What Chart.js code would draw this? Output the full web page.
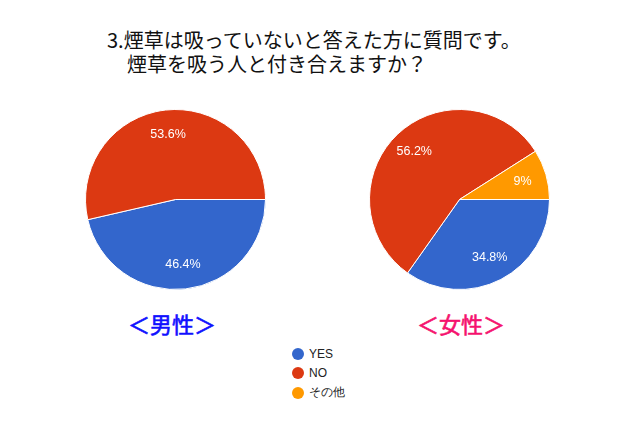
<!DOCTYPE html>
<html>
<head>
<meta charset="utf-8">
<script src="https://cdn.jsdelivr.net/npm/chart.js@4/dist/chart.umd.min.js"></script>
<style>
  body { margin: 0; width: 640px; height: 427px; background: #fff; position: relative; overflow: hidden; }
  #title { position: absolute; left: 107px; top: 28px; font-family: "Noto Sans CJK JP", sans-serif; font-size: 20px; line-height: 24px; color: #111; white-space: pre; }
  .pie { position: absolute; }
  .sex { position: absolute; top: 308px; font-family: "Noto Sans CJK JP", sans-serif; font-size: 22px; line-height: 30px; -webkit-text-stroke: 0.6px currentColor; }
  #legend { position: absolute; left: 292px; top: 344px; font-family: "Liberation Sans", Arial, sans-serif; font-size: 12px; color: #222; }
  #legend div { height: 19.5px; display: flex; align-items: center; }
  #legend span.dot { width: 12px; height: 12px; border-radius: 50%; display: inline-block; margin-right: 5px; }
</style>
</head>
<body>
<div id="title">3.煙草は吸っていないと答えた方に質問です。
　煙草を吸う人と付き合えますか？</div>
<div class="pie" style="left:85px; top:109px;"><canvas id="maleChart" width="181" height="181"></canvas></div>
<div class="pie" style="left:369px; top:109px;"><canvas id="femaleChart" width="181" height="181"></canvas></div>
<div class="sex" style="left:128px; color:#1010ff;">＜男性＞</div>
<div class="sex" style="left:417px; color:#f5126e;">＜女性＞</div>
<div id="legend"></div>
<script>
const categories = ['YES', 'NO', 'その他'];
const colors = ['#3366cc', '#dc3912', '#ff9900'];
const maleValues = [46.4, 53.6];
const femaleValues = [34.8, 56.2, 9];

// percentage labels inside the slices
const sliceLabels = {
    id: 'sliceLabels',
    afterDatasetsDraw(chart) {
        const ctx = chart.ctx;
        const values = chart.data.datasets[0].data;
        chart.getDatasetMeta(0).data.forEach((arc, i) => {
            const mid = (arc.startAngle + arc.endAngle) / 2;
            const r = arc.outerRadius * 0.73;
            ctx.save();
            ctx.fillStyle = '#fff';
            ctx.font = '12.5px "Liberation Sans", Arial, sans-serif';
            ctx.textAlign = 'center';
            ctx.textBaseline = 'middle';
            ctx.fillText(values[i] + '%', arc.x + Math.cos(mid) * r, arc.y + Math.sin(mid) * r);
            ctx.restore();
        });
    }
};

function makePie(id, values) {
    const ctx = document.getElementById(id).getContext('2d');
    return new Chart(ctx, {
        type: 'pie',
        data: {
            labels: categories.slice(0, values.length),
            datasets: [{
                data: values,
                backgroundColor: colors.slice(0, values.length),
                borderColor: '#fff',
                borderWidth: 1
            }]
        },
        options: {
            responsive: false,
            animation: false,
            rotation: 90,
            layout: { padding: 0 },
            plugins: {
                legend: { display: false },
                tooltip: { enabled: false }
            }
        },
        plugins: [sliceLabels]
    });
}

makePie('maleChart', maleValues);
makePie('femaleChart', femaleValues);

const legend = document.getElementById('legend');
categories.forEach((name, i) => {
    const row = document.createElement('div');
    row.innerHTML = `<span class="dot" style="background:${colors[i]}"></span>${name}`;
    legend.appendChild(row);
});
</script>
</body>
</html>
